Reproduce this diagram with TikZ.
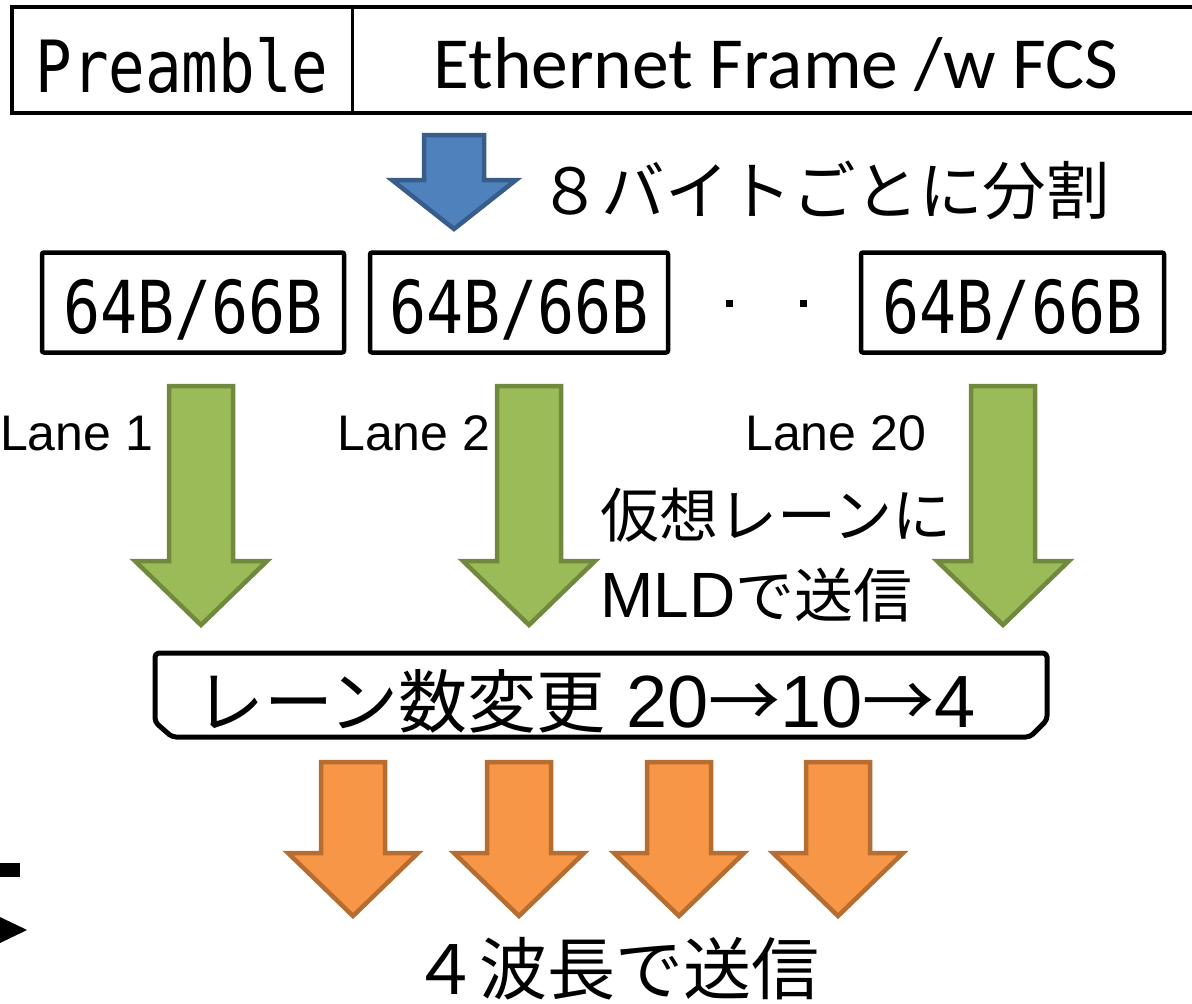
\documentclass[tikz,border=0pt]{standalone}
\usepackage{fontspec}
\setmainfont{Liberation Sans}
\newfontfamily\jpfont{Noto Sans CJK JP}
\newfontfamily\calfont{Carlito}
\newfontfamily\gothfont[FakeStretch=0.845]{DejaVu Sans Mono}

\definecolor{bluefill}{HTML}{4F81BD}
\definecolor{blueedge}{HTML}{385D8A}
\definecolor{greenfill}{HTML}{9BBB59}
\definecolor{greenedge}{HTML}{71893F}
\definecolor{orangefill}{HTML}{F79646}
\definecolor{orangeedge}{HTML}{B66D31}

% block arrow pointing down: style, centre x, top, head top, tip, half shaft, half head
\newcommand{\blockdown}[7]{%
  \draw[#1] (#2-#6,#3) -- (#2+#6,#3) -- (#2+#6,#4) -- (#2+#7,#4) -- (#2,#5)
    -- (#2-#7,#4) -- (#2-#6,#4) -- cycle;}
% long thin arrow sign between lane counts
\newcommand{\lanearrow}{{\jpfont\fontsize{72}{80}\selectfont →}}

\tikzset{
  frameline/.style={draw=black, line width=4.5pt},
  codebox/.style={draw=black, line width=4.5pt, rounded corners=2pt,
    minimum height=100pt, inner sep=0pt, text height=61pt, text depth=0pt,
    font=\gothfont\fontsize{73}{80}\selectfont},
  bluearrow/.style={fill=bluefill, draw=blueedge, line width=4.5pt, line join=miter},
  greenarrow/.style={fill=greenfill, draw=greenedge, line width=4.5pt, line join=miter},
  orangearrow/.style={fill=orangefill, draw=orangeedge, line width=4.5pt, line join=miter},
  lanelabel/.style={anchor=base west, inner sep=0pt, font=\fontsize{50}{60}\selectfont},
  jptext/.style={anchor=base west, inner sep=0pt},
}

\begin{document}
\begin{tikzpicture}[x=1pt, y=-1pt]
\useasboundingbox (0,0) rectangle (1192,1004);
\clip (0,0) rectangle (1192,1004);

% frame header: preamble + ethernet frame
\draw[frameline] (12,7) rectangle (1230,113);
\draw[black, line width=3pt] (352,7) -- (352,113);
\node[anchor=base, inner sep=0pt, font=\gothfont\fontsize{72}{80}\selectfont]
  (pre) at (182,92) {Preamble};
\node[anchor=base, inner sep=0pt, font=\calfont\fontsize{73.5}{80}\selectfont]
  (eth) at (776,88) {Ethernet Frame /w FCS};

% split into 8-byte blocks
\blockdown{bluearrow}{454}{135}{180}{229}{30}{62}
\node[jptext, font=\jpfont\fontsize{63.5}{70}\selectfont] (split) at (538,214) {８バイトごとに分割};

% 64B/66B blocks
\node[codebox, minimum width=302pt] (b1) at (193,302.5) {64B/66B};
\node[codebox, minimum width=298pt] (b2) at (519,302.5) {64B/66B};
\node[codebox, minimum width=303pt] (b3) at (1012.5,302.5) {64B/66B};
\node[fill=black, minimum size=7pt, inner sep=0pt] (d1) at (729,303) {};
\node[fill=black, minimum size=7pt, inner sep=0pt] (d2) at (803,303) {};

% virtual lanes
\blockdown{greenarrow}{201}{386}{561}{625}{32}{66}
\blockdown{greenarrow}{529}{386}{561}{625}{32}{66}
\blockdown{greenarrow}{1003}{386}{561}{625}{32}{66}
\node[lanelabel] (l1) at (0,450) {Lane 1};
\node[lanelabel] (l2) at (337,450) {Lane 2};
\node[lanelabel] (l20) at (745,450) {Lane 20};
\node[jptext, font=\jpfont\fontsize{59}{70}\selectfont] (mld1) at (600,537) {仮想レーンに};
\node[jptext, font=\jpfont\fontsize{59}{70}\selectfont] (mld2) at (600,617)
  {{\rmfamily\fontsize{64}{70}\selectfont MLD}で送信};

% lane count conversion
\draw[black, line width=5pt, rounded corners=4pt, line join=round]
  (155,722) -- (155,653) -- (1047,653) -- (1047,720) -- (1030,737) -- (172,737) -- cycle;
\node[jptext, font=\jpfont\fontsize{69}{80}\selectfont] (conv) at (195,727)
  {レーン数変更{\rmfamily\fontsize{74}{80}\selectfont{} 20\lanearrow10\lanearrow4}};

% four wavelengths
\blockdown{orangearrow}{353}{762}{853}{916}{32}{65}
\blockdown{orangearrow}{519}{762}{853}{916}{32}{65}
\blockdown{orangearrow}{679}{762}{853}{916}{32}{65}
\blockdown{orangearrow}{838}{762}{853}{916}{32}{65}
\node[jptext, font=\jpfont\fontsize{68}{80}\selectfont] (wave) at (411,994) {４波長で送信};

% marks at the left edge
\fill[black] (0,863) rectangle (20,877);
\fill[black] (0,917) -- (27,930) -- (0,943) -- cycle;
\end{tikzpicture}
\end{document}
